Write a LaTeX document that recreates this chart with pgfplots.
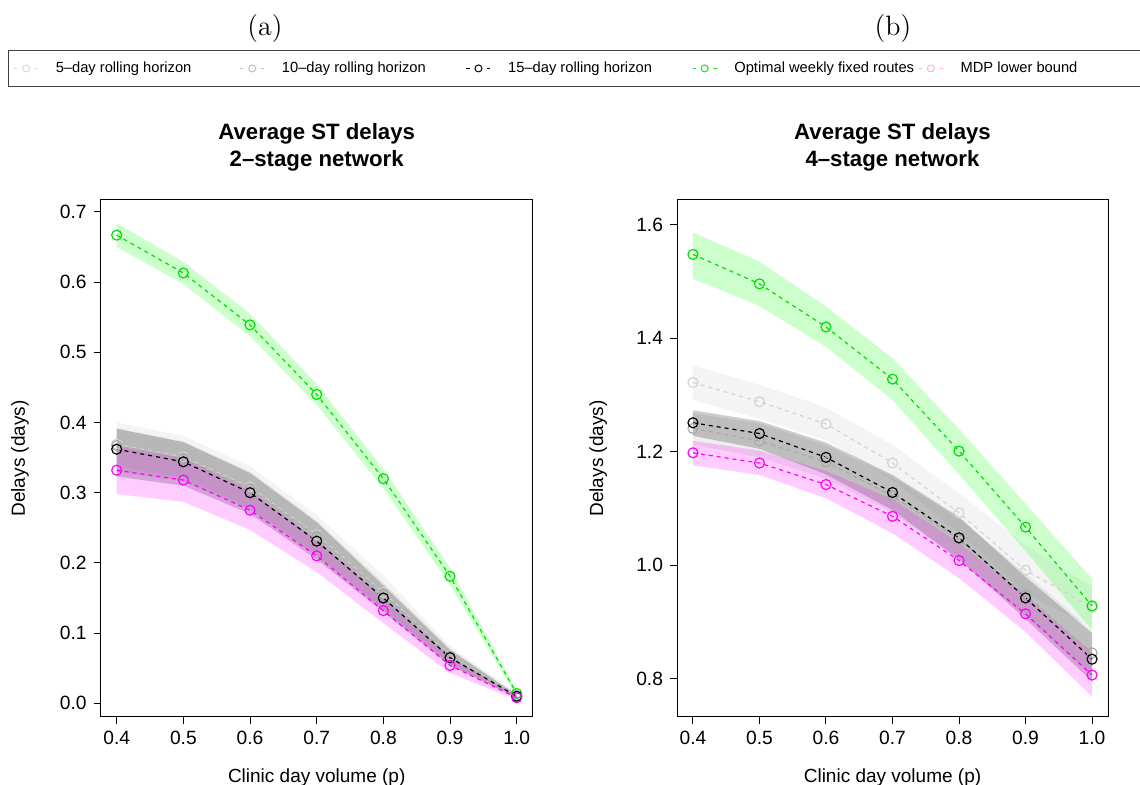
\documentclass[border=0pt]{standalone}
\usepackage{fontspec}
\usepackage{pgfplots}
\usepackage{pgfplotstable}
\pgfplotsset{compat=1.18}
\newfontfamily\arial{Liberation Sans}

\definecolor{cFive}{RGB}{211,211,211}
\definecolor{cTen}{RGB}{169,169,169}
\definecolor{cGreen}{RGB}{0,224,0}
\definecolor{cMag}{RGB}{255,0,255}
\definecolor{fGreen}{RGB}{0,255,0}
\definecolor{fMag}{RGB}{255,0,255}
\definecolor{fBlack}{RGB}{0,0,0}
\definecolor{lFive}{RGB}{218,218,218}
\definecolor{lTen}{RGB}{192,192,192}
\definecolor{lGreen}{RGB}{34,221,34}
\definecolor{lPink}{RGB}{255,182,204}

% ---------- panel (a): 2-stage network, means ----------
\pgfplotstableread{
x   five  ten   fifteen green mdp
0.4 0.369 0.367 0.362   0.667 0.332
0.5 0.351 0.349 0.344   0.613 0.318
0.6 0.308 0.306 0.300   0.539 0.275
0.7 0.240 0.238 0.231   0.440 0.210
0.8 0.158 0.156 0.150   0.320 0.132
0.9 0.068 0.067 0.065   0.181 0.054
1.0 0.011 0.011 0.010   0.014 0.008
}\aMeans
% bands (upper edge left to right, then lower edge right to left)
\pgfplotstableread{
x   five  ten   fifteen green mdp
0.4 0.400 0.392 0.391   0.684 0.366
0.5 0.381 0.373 0.372   0.629 0.349
0.6 0.338 0.330 0.328   0.555 0.303
0.7 0.268 0.260 0.258   0.455 0.233
0.8 0.182 0.172 0.168   0.334 0.150
0.9 0.082 0.078 0.076   0.193 0.065
1.0 0.014 0.013 0.012   0.018 0.011
1.0 0.008 0.009 0.008   0.010 0.005
0.9 0.054 0.056 0.054   0.169 0.043
0.8 0.134 0.134 0.130   0.306 0.114
0.7 0.212 0.210 0.205   0.425 0.187
0.6 0.278 0.276 0.270   0.523 0.247
0.5 0.321 0.316 0.310   0.597 0.287
0.4 0.338 0.330 0.323   0.650 0.298
}\aBands

% ---------- panel (b): 4-stage network, means ----------
\pgfplotstableread{
x   five  ten   fifteen green mdp
0.4 1.322 1.241 1.251   1.548 1.198
0.5 1.288 1.219 1.232   1.496 1.180
0.6 1.249 1.182 1.190   1.420 1.142
0.7 1.180 1.122 1.128   1.328 1.086
0.8 1.092 1.045 1.048   1.201 1.008
0.9 0.991 0.947 0.942   1.067 0.914
1.0 0.925 0.845 0.834   0.928 0.806
}\bMeans
\pgfplotstableread{
x   five  ten   fifteen green mdp
0.4 1.352 1.268 1.273   1.587 1.219
0.5 1.318 1.250 1.254   1.535 1.202
0.6 1.278 1.212 1.216   1.456 1.166
0.7 1.212 1.155 1.159   1.365 1.116
0.8 1.127 1.082 1.085   1.240 1.039
0.9 1.035 0.985 0.979   1.108 0.946
1.0 0.962 0.885 0.880   0.976 0.845
1.0 0.890 0.805 0.795   0.885 0.768
0.9 0.950 0.910 0.905   1.025 0.882
0.8 1.057 1.010 1.010   1.160 0.977
0.7 1.150 1.092 1.097   1.291 1.056
0.6 1.220 1.152 1.160   1.385 1.118
0.5 1.258 1.190 1.205   1.457 1.159
0.4 1.291 1.212 1.228   1.505 1.176
}\bBands

\pgfplotsset{
  myaxis/.style={
    scale only axis, width=216pt, height=258.5pt,
    xmin=0.376, xmax=1.024,
    xtick={0.4,0.5,0.6,0.7,0.8,0.9,1.0},
    tick align=outside, major tick length=3.5pt,
    xtick pos=left, ytick pos=left,
    axis line style={line width=0.5pt},
    tick style={black, line width=0.5pt},
    tick label style={font=\arial\fontsize{9.6}{11}\selectfont},
    /pgf/number format/assume math mode=true,
    /pgf/number format/fixed, /pgf/number format/fixed zerofill,
    /pgf/number format/precision=1,
    label style={font=\arial\fontsize{9.5}{11}\selectfont},
    xlabel={Clinic day volume (p)},
    ylabel={Delays (days)},
    xlabel style={at={(axis description cs:0.5,-0.117)}, anchor=center},
    ylabel style={at={(axis description cs:-0.187,0.5)}, anchor=center},
    title style={at={(axis description cs:0.5,1.078)}, anchor=center, align=center,
      font=\arial\bfseries\fontsize{11.1}{13.5}\selectfont},
  },
  ser/.style={dash pattern=on 2pt off 2pt, line width=0.6pt, mark=o, mark size=2.5pt,
    mark options={solid, line width=0.6pt}, forget plot},
  band/.style={draw=none, fill opacity=0.2, forget plot},
  lser/.style={line width=0.5pt, dash pattern=on 1.6pt off 8.8pt, mark=o, mark size=1.75pt,
    mark options={solid, line width=0.5pt}},
}

\begin{document}
\begin{tikzpicture}
\useasboundingbox (0,0) rectangle (570pt,392.5pt);

\begin{axis}[myaxis, at={(50.35pt,34pt)}, anchor=south west,
  ymin=-0.0195, ymax=0.717, ytick={0,0.1,0.2,0.3,0.4,0.5,0.6,0.7},
  title={Average ST delays\\2–stage network},
  legend columns=5,
  legend image code/.code={
    \draw[mark repeat=2, mark phase=2, #1] plot coordinates {(0pt,0pt) (6pt,0pt) (12pt,0pt)};
  },
  legend style={at={(-0.2144,1.2901)}, anchor=north west, draw=black!75, line width=0.5pt,
    inner xsep=2.5pt, inner ysep=5.5pt,
    font=\arial\fontsize{7.35}{8.5}\selectfont,
    nodes={inner sep=0pt, text height=5.4pt, text depth=1.5pt},
    /tikz/every odd column/.append style={column sep=8.6pt},
    /tikz/every even column/.append style={column sep=0pt}},
  ]
  \addlegendimage{lser, color=lFive}
  \addlegendentry{\makebox[92pt][l]{5–day rolling horizon}}
  \addlegendimage{lser, color=lTen}
  \addlegendentry{\makebox[92pt][l]{10–day rolling horizon}}
  \addlegendimage{lser, color=black}
  \addlegendentry{\makebox[92pt][l]{15–day rolling horizon}}
  \addlegendimage{lser, color=lGreen}
  \addlegendentry{\makebox[92pt][l]{Optimal weekly fixed routes}}
  \addlegendimage{lser, color=lPink}
  \addlegendentry{\makebox[110pt][l]{MDP lower bound}}

  \addplot[band, fill=cFive, fill opacity=0.25] table[x=x,y=five]{\aBands} -- cycle;
  \addplot[band, fill=cTen] table[x=x,y=ten]{\aBands} -- cycle;
  \addplot[band, fill=fBlack] table[x=x,y=fifteen]{\aBands} -- cycle;
  \addplot[band, fill=fGreen] table[x=x,y=green]{\aBands} -- cycle;
  \addplot[band, fill=fMag] table[x=x,y=mdp]{\aBands} -- cycle;

  \addplot[ser, color=cFive] table[x=x,y=five]{\aMeans};
  \addplot[ser, color=cTen] table[x=x,y=ten]{\aMeans};
  \addplot[ser, color=black] table[x=x,y=fifteen]{\aMeans};
  \addplot[ser, color=cGreen] table[x=x,y=green]{\aMeans};
  \addplot[ser, color=cMag] table[x=x,y=mdp]{\aMeans};
\end{axis}

\begin{axis}[myaxis, at={(338.5pt,34pt)}, anchor=south west, width=215.5pt,
  ymin=0.732, ymax=1.644, ytick={0.8,1.0,1.2,1.4,1.6},
  ylabel style={at={(axis description cs:-0.183,0.5)}, anchor=center},
  title={Average ST delays\\4–stage network},
  ]
  \addplot[band, fill=cFive, fill opacity=0.25] table[x=x,y=five]{\bBands} -- cycle;
  \addplot[band, fill=cTen] table[x=x,y=ten]{\bBands} -- cycle;
  \addplot[band, fill=fBlack] table[x=x,y=fifteen]{\bBands} -- cycle;
  \addplot[band, fill=fGreen] table[x=x,y=green]{\bBands} -- cycle;
  \addplot[band, fill=fMag] table[x=x,y=mdp]{\bBands} -- cycle;

  \addplot[ser, color=cFive] table[x=x,y=five]{\bMeans};
  \addplot[ser, color=cTen] table[x=x,y=ten]{\bMeans};
  \addplot[ser, color=black] table[x=x,y=fifteen]{\bMeans};
  \addplot[ser, color=cGreen] table[x=x,y=green]{\bMeans};
  \addplot[ser, color=cMag] table[x=x,y=mdp]{\bMeans};
\end{axis}

\node[font=\fontsize{14}{16}\selectfont] at (132.5pt,378pt) {(a)};
\node[font=\fontsize{14}{16}\selectfont] at (446.5pt,378pt) {(b)};
\end{tikzpicture}
\end{document}
